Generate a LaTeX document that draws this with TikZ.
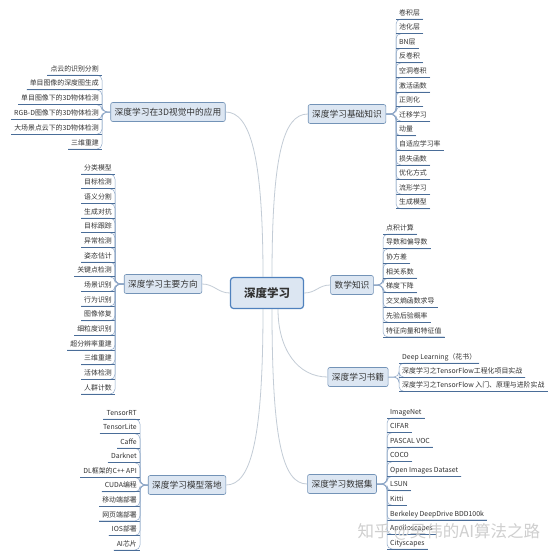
\documentclass[tikz,border=0pt]{standalone}
\usepackage{fontspec}
\setmainfont{Noto Sans CJK SC}
\definecolor{boxfill}{HTML}{DCE6F2}
\definecolor{boxline}{HTML}{7393B7}
\definecolor{rootline}{HTML}{4F81BD}
\definecolor{twigline}{HTML}{8FA8C8}
\definecolor{ulinecol}{HTML}{4A6D98}
\definecolor{trunkline}{HTML}{C3CCD6}
\definecolor{inkcol}{HTML}{333333}
\tikzset{
  root/.style={draw=rootline,line width=1.2pt,fill=boxfill,rounded corners=3pt,
    minimum width=73pt,minimum height=31pt,font=\fontsize{11.5}{13}\selectfont\bfseries,text=inkcol},
  topic/.style={draw=boxline,line width=0.6pt,fill=boxfill,rounded corners=2pt,
    minimum height=19pt,inner xsep=4pt,font=\fontsize{8.7}{10}\selectfont,text=inkcol},
  leaf/.style={inner xsep=3pt,inner ysep=2.5pt,text height=5.5pt,text depth=1.2pt,
    font=\fontsize{6.9}{8}\selectfont,text=inkcol},
  twig/.style={draw=twigline,line width=0.5pt,rounded corners=5pt},
  uline/.style={draw=ulinecol,line width=0.8pt},
  trunk/.style={draw=trunkline,line width=0.8pt}
}
\begin{document}
\begin{tikzpicture}[x=1pt,y=-1pt]
\useasboundingbox[fill=white](0,0)rectangle(554,558);
\node[root](dl)at(267,293){深度学习};
\node[topic](b3d)at(168,112){深度学习在3D视觉中的应用};
\node[topic](bjc)at(347,114){深度学习基础知识};
\node[topic](bfx)at(163,284){深度学习主要方向};
\node[topic](bsx)at(352,285){数学知识};
\node[topic](bsj)at(358,377){深度学习书籍};
\node[topic](bsjj)at(342,484){深度学习数据集};
\node[topic](bld)at(187,485){深度学习模型落地};
% trunk lines
\draw[trunk]([xshift=-4pt]dl.north)..controls +(0,-120) and +(25,0)..(b3d.east);
\draw[trunk]([xshift=5pt]dl.north)..controls +(0,-120) and +(-25,0)..(bjc.west);
\draw[trunk](dl.west)..controls +(-12,0) and +(12,0)..(bfx.east);
\draw[trunk](dl.east)..controls +(12,0) and +(-12,0)..(bsx.west);
\draw[trunk]([xshift=11pt]dl.south)..controls +(0,40) and +(-30,0)..(bsj.west);
\draw[trunk]([xshift=5pt]dl.south)..controls +(0,130) and +(-25,0)..(bsjj.west);
\draw[trunk]([xshift=-4pt]dl.south)..controls +(0,130) and +(25,0)..(bld.east);
% left side leaves
\foreach \t[count=\i] in {点云的识别分割,单目图像的深度图生成,单目图像下的3D物体检测,
  RGB-D图像下的3D物体检测,大场景点云下的3D物体检测,三维重建}{
  \node[leaf,anchor=east](sd\i)at(102,{69+(\i-1)*14.8}){\t};
  \draw[twig](b3d.west)-|(sd\i.south east)--(sd\i.south west);
  \draw[uline](sd\i.south west)--(sd\i.south east);
}
\foreach \t[count=\i] in {分类模型,目标检测,语义分割,生成对抗,目标跟踪,异常检测,姿态估计,
  关键点检测,场景识别,行为识别,图像修复,细粒度识别,超分辨率重建,三维重建,活体检测,人群计数}{
  \node[leaf,anchor=east](fx\i)at(115,{168+(\i-1)*14.67}){\t};
  \draw[twig](bfx.west)-|(fx\i.south east)--(fx\i.south west);
  \draw[uline](fx\i.south west)--(fx\i.south east);
}
\foreach \t[count=\i] in {TensorRT,TensorLite,Caffe,Darknet,DL框架的C++ API,CUDA编程,
  移动端部署,网页端部署,IOS部署,AI芯片}{
  \node[leaf,anchor=east](ld\i)at(140,{413+(\i-1)*14.55}){\t};
  \draw[twig](bld.west)-|(ld\i.south east)--(ld\i.south west);
  \draw[uline](ld\i.south west)--(ld\i.south east);
}
% right side leaves
\foreach \t[count=\i] in {卷积层,池化层,BN层,反卷积,空洞卷积,激活函数,正则化,迁移学习,
  动量,自适应学习率,损失函数,优化方式,流形学习,生成模型}{
  \node[leaf,anchor=west](jc\i)at(396,{13+(\i-1)*14.6}){\t};
  \draw[twig](bjc.east)-|(jc\i.south west)--(jc\i.south east);
  \draw[uline](jc\i.south west)--(jc\i.south east);
}
\foreach \t[count=\i] in {点积计算,导数和偏导数,协方差,相关系数,梯度下降,交叉熵函数求导,
  先验后验概率,特征向量和特征值}{
  \node[leaf,anchor=west](sx\i)at(383,{228+(\i-1)*14.7}){\t};
  \draw[twig](bsx.east)-|(sx\i.south west)--(sx\i.south east);
  \draw[uline](sx\i.south west)--(sx\i.south east);
}
\foreach \t[count=\i] in {Deep Learning（花书）,深度学习之TensorFlow工程化项目实战,
  深度学习之TensorFlow 入门、原理与进阶实战}{
  \node[leaf,anchor=west](sj\i)at(399,{357+(\i-1)*14.2}){\t};
  \draw[twig](bsj.east)-|(sj\i.south west)--(sj\i.south east);
  \draw[uline](sj\i.south west)--(sj\i.south east);
}
\foreach \t[count=\i] in {ImageNet,CIFAR,PASCAL VOC,COCO,Open Images Dataset,LSUN,Kitti,
  Berkeley DeepDrive BDD100k,Apolloscapes,Cityscapes}{
  \node[leaf,anchor=west](sjj\i)at(387,{412+(\i-1)*14.55}){\t};
  \draw[twig](bsjj.east)-|(sjj\i.south west)--(sjj\i.south east);
  \draw[uline](sjj\i.south west)--(sjj\i.south east);
}
\node[anchor=west,font=\fontsize{16.5}{18}\selectfont,text=gray!38](mark)at(354,532){知乎 @吴伟的AI算法之路};
\end{tikzpicture}
\end{document}
